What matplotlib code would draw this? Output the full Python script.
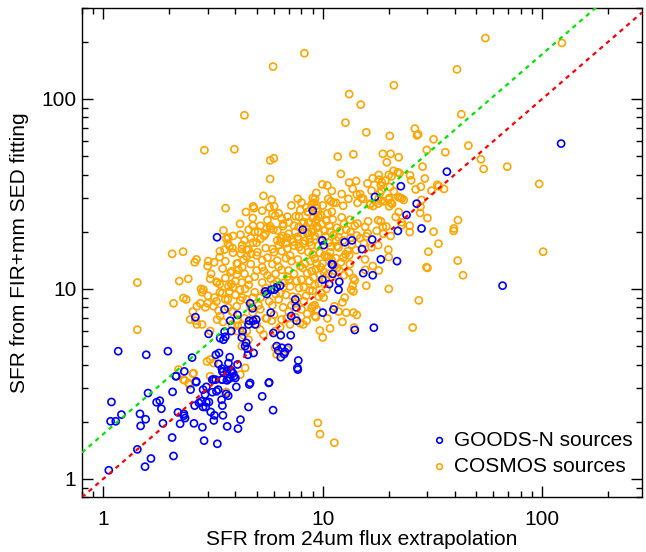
import matplotlib
matplotlib.use("Agg")
import matplotlib.pyplot as plt
from matplotlib.ticker import FixedLocator, FuncFormatter, NullFormatter, LogLocator
import numpy as np

plt.rcParams['font.family'] = ['Liberation Sans', 'DejaVu Sans']

# ---------------- data ----------------
cosmos_pts = [
    # top outliers
    (8.25,174),(5.94,148),(13.2,106),(14.9,93.3),(4.4,82),(12.7,75),(15.8,66.7),(2.89,53.7),(3.96,54.3),
    (11.7,49.7),(13.8,51.1),(5.99,48.7),
    (55.1,209),(123,197),(40.9,143),(21.1,118),(42.8,83),(26.3,69.8),(20.2,63.9),(26.9,64.3),(27.2,65.1),
    (32,61.3),(46.1,56.8),(18.8,51.4),(20.4,51.4),(29.8,53.9),(36.2,52.4),(22.2,49.3),(19.6,46.4),(52.6,48.1),
    (28.5,44),(69.3,44),(54.1,42.8),(21,41.8),(22,41.1),(22.4,40.6),(18,39.8),(20,39.8),(20.6,39.1),(25,39.6),
    (16,35.9),(16.9,38.2),(18,37.6),(18.6,36.4),(25.3,37.3),(29.2,38.1),(20.2,34.4),(28,34.5),(26.5,33.4),
    (31.3,32.9),(33.8,34.7),(35.7,33.6),(21.1,32.6),(96.9,35.7),(18.2,31.9),(15,30.1),(20.1,30.1),(22.1,30.5),
    (22.5,30.2),(22.9,29.9),(23.4,29.4),(28.2,29.4),(18.4,29),(18.9,28.9),(17.9,28.1),(20.4,28.4),(16.4,27.7),
    (17,27.3),(27.9,27.1),
    # upper-left part of the cloud
    (5.76,47.5),(5.76,37.9),(5.37,30.9),(5.86,29.5),(7.7,29.8),(9.23,29.8),(8.94,28.1),(8.46,26.8),(9.39,27.5),
    (4.82,27.2),(4.86,26.6),(5.72,26.9),(6.01,27.2),(3.61,26.6),(4.47,25.4),(6.07,24.3),(8.55,25.4),(9.07,24),
    (9.49,25.5),(7.54,24.1),(7.0,22.4),(6.58,21.4),(4.81,21.5),(5.76,21.4),(5.56,20.9),(5.96,20.5),(6.22,20.3),
    (7.78,21.2),(8.11,22.1),(8.6,22.3),(8.91,19.9),(8.49,19.7),(9.39,21.2),(3.53,20.3),(4.22,19.3),(5.08,20.0),
    (5.48,19.5),(3.63,18.4),(3.71,18.6),(4.81,17.5),(6.44,18.5),(6.86,18.6),(6.44,17.7),(7.35,17.7),(7.72,18.2),
    (8.16,17.3),(8.75,18.3),(3.57,16.1),(3.88,16.4),(3.76,16.8),(4.28,16.2),(4.24,15.3),(2.06,15.3),(2.31,15.7),
    (2.61,13.8),(2.66,14.3),(3.01,14.0),(2.99,13.2),(3.39,14.7),(4.59,16.1),(4.71,15.3),(5.04,15.6),(4.06,13.6),
    (4.36,14.3),
    # upper-right part of the cloud
    (12.1,40.3),(19.3,37.2),(18.4,35.1),(9.96,35.5),(10.5,35),(13.2,36.3),(14.2,37),(33.3,35.3),(11,32.8),
    (9.35,32),(12.2,31.6),(13.7,33.6),(14.8,31.6),(16.7,32.9),(18.5,33.0),(9.01,30.1),(9.13,28.4),(10.6,29.8),
    (10.9,28.9),(11.2,28.4),(11.5,28.4),(12.4,27.4),(13.1,29.8),(14.3,31.4),(14.4,28.4),(15.3,29.8),(16.5,28.1),
    (18,29.9),(20,29.6),(20.1,27.2),(20.7,28),(22.2,25.4),(21.5,23.9),(27.8,25.1),(30,23.6),(41.3,23),(39.6,20.8),
    (39.5,20.2),(32,20),(33.7,17.3),(30.3,15.7),(41.2,14.1),(29.7,13),(20,14.7),(19.9,16.1),(17.9,17),(16.7,16.6),
    (20.4,19),(18.8,21.2),(18.4,22.7),(17.9,23),(15.6,21.2),(13.3,23.1),(14.4,22.1),(16.1,22.7),(13.4,19.9),
    (15.8,18.9),(14.3,19.1),(24.9,21.5),(24.9,19.9),(22.9,22.4),(22.9,21.6),(19.5,21.3),(18.9,19.5),(17.6,20.2),
    (15.6,14.3),(13.2,15),(12.4,14.6),(10.6,14.8),(11.6,16.8),(11.8,18.7),(10.8,20),(9.39,23.2),(9.55,24.1),
    # lower-left part of the cloud
    (2.22,11.0),(2.44,11.3),(3.07,11.3),(3.28,10.9),(3.39,10.6),(2.79,10.0),(2.86,9.9),(2.82,9.6),(2.32,8.95),
    (2.39,8.8),(2.09,8.4),(3.21,9.0),(3.49,9.5),(3.72,10.3),(3.83,10.6),(3.76,9.7),(3.6,8.8),(3.28,8.6),
    (2.99,8.4),(2.77,8.4),(2.67,8.1),(2.92,8.0),(3.18,8.1),(2.56,7.6),(2.49,6.9),(2.63,6.8),(2.67,6.5),(2.82,6.5),
    (3.35,7.7),(3.7,8.0),(3.86,7.6),(4.06,8.1),(4.21,8.7),(4.0,9.3),(4.43,10.0),(4.28,10.8),(4.06,11.9),
    (3.86,12.4),(4.13,12.6),(3.41,7.2),(3.3,6.9),(3.51,6.7),(3.07,6.0),(3.86,6.5),(4.06,6.0),(4.28,6.4),(4.51,6.0),
    (4.36,5.7),(4.28,5.0),(4.59,5.4),(2.97,4.15),(3.07,4.25),(3.18,4.07),(2.58,3.6),(2.2,3.76),(2.32,3.33),
    (2.45,3.2),(3.07,3.47),(3.66,3.68),(4.21,3.54),(4.43,3.84),(6.17,4.51),(6.07,4.9),(6.86,4.8),(7.88,6.6),
    (9.23,7.2),(8.45,6.8),(8.16,6.5),(9.39,7.8),(6.86,7.0),(7.1,6.5),(6.4,6.3),(5.56,7.0),(5.86,6.8),(6.07,6.0),
    (5.37,5.75),(5.19,6.1),(5.0,6.5),(4.06,6.9),
    # lower-right part of the cloud
    (30,12.9),(43.6,11.8),(20.0,10.0),(18.0,12.5),(16.9,13.2),(15.6,12.6),(15.8,10.4),(13.8,11.4),(14.0,11.1),
    (13.7,10.4),(13.5,9.9),(13.8,9.7),(27.4,8.7),(12.3,8.5),(12.6,9.0),(11.8,7.6),(12.8,7.5),(13.8,7.5),(14.3,7.3),
    (12.3,6.7),(10.5,7.0),(9.3,7.1),(10.8,6.2),(9.7,6.04),(10.0,5.55),(13.9,6.26),(25.7,6.26),(11.3,8.1),(9.2,8.2),
    (8.9,7.9),(9.6,9.1),(10.1,9.0),
    # faint / isolated
    (2.35,3.3),(2.46,3.14),(2.56,3.58),(3.63,2.87),(9.5,1.97),(9.72,1.72),(11.3,1.55),(1.43,10.8),(1.43,6.1),
    (101,15.7),
    # dense core
    (5.2,9.0),(5.5,10.1),(5.8,11.3),(6.1,12.0),(6.4,9.5),(6.7,10.8),(7.0,12.5),(7.3,9.1),(7.6,11.0),(7.9,13.2),
    (8.2,10.2),(8.5,12.1),(8.8,14.0),(9.1,11.5),(9.4,13.6),(9.7,15.5),(10.1,12.3),(10.5,14.8),(10.9,16.7),(11.3,13.1),
    (4.4,12.0),(4.7,13.5),(5.0,15.0),(5.3,13.0),(5.6,14.6),(5.9,16.2),(6.2,14.1),(6.5,15.8),(6.8,17.4),(7.1,15.0),
    (7.4,16.9),(7.7,18.8),(8.0,16.0),(8.3,17.9),(8.6,19.8),(8.9,17.0),(9.2,19.0),(9.5,21.0),(9.8,18.1),(10.2,20.2),
    (4.6,10.5),(4.9,11.6),(5.1,8.2),(5.4,12.4),(5.7,8.6),(6.0,10.6),(6.3,13.1),(6.6,8.0),(6.9,11.6),(7.2,14.0),
    (7.5,8.4),(7.8,10.1),(8.1,12.9),(8.4,9.2),(8.7,11.0),(9.0,9.8),(9.3,12.7),(9.6,10.7),(9.9,9.5),(10.3,11.2),
    (5.0,17.5),(5.4,19.0),(5.8,20.8),(6.2,18.0),(6.6,22.0),(7.0,19.5),(7.4,21.5),(7.8,24.0),(8.2,22.5),(8.6,25.5),
    (9.0,23.5),(9.4,26.5),(9.8,24.5),(10.4,22.8),(11.0,25.5),(11.6,21.0),(12.2,23.8),(12.8,20.5),(13.4,18.6),(14.0,21.5),
    (10.6,17.5),(11.2,19.2),(11.8,16.5),(12.4,18.0),(13.0,15.8),(13.6,17.1),(14.2,16.0),(14.8,18.5),(15.4,17.4),(16.0,19.6),
    (11.5,14.5),(12.1,13.8),(12.7,15.2),(13.3,13.5),(10.8,15.6),(11.9,12.5),(12.5,11.8),(13.2,12.2),(10.0,13.6),(9.0,15.2),
    (6.0,7.3),(6.5,6.9),(7.0,7.6),(7.5,7.1),(8.0,7.8),(8.5,7.4),(9.0,8.1),(5.5,7.0),(4.8,7.5),(4.5,8.8),
    (4.9,9.6),(5.3,10.8),(4.2,9.9),(4.0,11.0),(3.8,12.2),(4.1,13.6),(4.5,14.8),(3.9,15.5),(4.3,17.0),(4.7,18.5),
    (6.3,25.0),(7.2,27.5),(8.0,28.5),(6.9,24.0),(5.6,23.0),(5.2,21.5),(4.6,20.5),(4.2,22.0),(3.9,19.0),(3.6,14.0),
    (3.5,12.8),(3.3,10.8),(3.1,12.0),(3.0,9.2),(3.4,9.6),(3.7,8.8),(3.9,7.6),(4.4,7.0),(4.1,6.4),(4.7,6.8),
    (5.0,12.5),(5.3,14.2),(5.6,11.8),(5.9,13.5),(6.2,10.9),(6.5,12.6),(6.8,14.5),(7.1,10.3),(7.4,12.0),(7.7,14.3),
    (8.0,11.2),(8.3,13.6),(8.6,15.6),(8.9,12.4),(9.2,14.4),(9.5,16.8),(9.8,13.0),(10.2,15.0),(10.6,12.0),(11.0,14.1),
    (6.0,15.6),(6.3,17.0),(6.6,19.0),(6.9,16.3),(7.2,18.2),(7.5,20.0),(7.8,16.6),(8.1,19.4),(8.4,21.2),(8.7,17.6),
    (9.0,20.6),(9.3,22.4),(9.6,19.6),(9.9,22.0),(10.3,18.9),(10.7,21.5),(11.1,23.2),(11.5,18.0),(12.0,20.2),(12.5,22.0),
    (5.5,16.4),(5.2,18.3),(4.9,20.0),(4.5,16.1),(4.3,13.0),(4.6,11.2),(4.8,9.0),(5.2,7.8),(5.9,8.2),(6.3,8.8),
    (6.8,9.3),(7.2,8.2),(7.7,9.0),(8.2,8.6),(8.7,9.8),(9.2,10.5),(9.7,11.9),(10.4,10.0),(11.0,11.6),(11.6,12.9),
    (7.9,26.0),(8.9,27.0),(10.0,27.5),(10.5,25.0),(6.5,23.5),(5.9,24.8),(5.3,25.8),(4.8,23.6),(4.4,18.0),(3.7,17.3),
    (3.4,15.8),(3.2,13.8),(3.6,11.4),(3.9,10.2),(4.3,9.0),(4.7,8.0),(5.4,9.6),(6.1,9.4),(6.6,10.2),(7.0,11.1),
]

goods_pts = [
    (36.8,41.4),(22.7,34.7),(26.8,28.1),(17.3,30.5),(122,58.2),
    (9.01,25.8),(8.11,20.5),(3.3,18.7),
    (24.1,24.5),(28.2,20.8),(22,20.2),(18.4,14.3),(21.8,14.0),(16.8,18.2),(15.1,16.2),(13.6,18),(12.6,17.6),
    (9.96,18),(10.1,17),(11,13.5),
    (1.97,4.7),(2.34,3.68),(2.14,3.47),(2.54,4.35),(2.65,3.26),(3.02,5.8),(2.63,7.1),(3.57,7.8),(3.79,6.8),
    (4.09,7.3),(4.67,8.4),(4.79,7.9),(4.62,6.8),(4.59,6.5),(4.82,6.8),(4.98,6.9),(4.92,6.5),(4.31,6.0),(4.28,5.55),
    (3.83,6.0),(3.57,5.95),(3.6,5.6),(3.53,5.4),(3.41,5.5),(3.26,4.5),(3.37,4.6),(3.77,4.37),(3.72,4.07),(3.35,4.03),
    (3.47,3.8),(3.51,3.66),(3.66,3.68),(3.82,3.72),(3.9,3.6),(3.79,3.4),(3.66,3.3),(3.47,3.33),(3.18,3.33),(4.09,4.0),
    (4.43,5.0),(4.48,5.2),(4.54,4.85),(4.56,4.5),(4.84,4.6),(4.67,3.2),(5.7,3.22),(5.48,9.7),(5.56,9.4),(5.82,9.9),
    (6.02,9.9),(6.17,10.2),(6.4,10.4),(7.5,8.8),(7.57,8.0),(7.18,7.2),(7.6,6.8),(5.8,7.5),(5.96,5.86),(6.44,5.7),
    (6.17,5.0),(6.28,4.74),(6.51,4.9),(6.67,4.54),(6.44,4.37),(6.73,4.66),(6.96,4.9),(7.15,5.7),(7.74,4.2),(7.67,3.84),
    (11.1,12),(9.96,11.2),(10.7,10.6),(11.9,10.9),(11.8,9.9),(15.3,12.1),(16.9,11.8),(11.2,7.8),(10.0,7.5),
    (14.0,6.08),(17.1,6.25),(11.1,13.4),
    (1.09,2.54),(1.08,2.01),(1.14,2.01),(1.21,2.18),(1.06,1.11),(1.43,1.43),(1.55,1.16),(1.65,1.28),(1.48,1.9),
    (1.47,2.2),(1.56,2.06),(1.6,2.83),(1.75,2.53),(1.81,2.58),(1.84,2.34),(1.87,1.96),(2.07,2.87),(2.15,3.47),
    (2.19,2.24),(2.24,1.95),(2.33,2.2),(2.36,2.09),(2.33,2.15),(2.06,1.65),(2.09,1.32),(2.5,2.95),(2.65,3.23),
    (2.59,1.96),(2.61,2.43),(2.73,2.51),(2.8,2.56),(2.85,2.39),(2.93,2.39),(2.95,2.53),(3.03,2.54),(2.85,2.95),
    (2.95,3.05),(2.91,2.78),(3.14,2.86),(3.28,2.89),(3.34,2.95),(3.14,3.33),(3.25,3.33),(3.49,3.33),(3.73,3.36),
    (3.94,3.47),(4.0,3.4),(3.49,3.68),(3.84,3.68),(3.09,2.25),(3.21,2.16),(3.19,2.03),(2.83,1.87),(2.88,1.59),
    (3.31,1.53),(3.46,2.61),(3.49,2.43),(3.51,2.16),(3.63,2.8),(3.71,2.74),(3.67,1.89),(4.04,3.05),(4.22,2.05),
    (4.11,1.84),(4.63,3.14),(4.59,2.39),(5.3,2.72),(5.68,3.2),(5.94,2.3),(7.7,3.76),
    (66,10.4),(1.17,4.7),(1.57,4.5),
]

cosmos_x = [p[0] for p in cosmos_pts]
cosmos_y = [p[1] for p in cosmos_pts]
goods_x = [p[0] for p in goods_pts]
goods_y = [p[1] for p in goods_pts]

x_limits = (0.8, 285)
y_limits = (0.8, 300)
green_ratio = 1.72       # y = 1.72 x
line_x = [0.8, 285]
major_ticks = [1, 10, 100]

series_labels = ["GOODS-N sources", "COSMOS sources"]
xlabel = "SFR from 24um flux extrapolation"
ylabel = "SFR from FIR+mm SED fitting"

# ---------------- figure ----------------
fig = plt.figure(figsize=(6.46, 5.52), dpi=100)
ax = fig.add_axes([0.1269, 0.0991, 0.8669, 0.8859])
ax.set_xscale('log')
ax.set_yscale('log')

ax.scatter(cosmos_x, cosmos_y, s=26, facecolors='none', edgecolors='#ffa500',
           linewidths=1.2, zorder=2, label=series_labels[1])
ax.scatter(goods_x, goods_y, s=26, facecolors='none', edgecolors='#0000ff',
           linewidths=1.2, zorder=3, label=series_labels[0])

ax.plot(line_x, line_x, color='#ff0000', lw=1.6, ls=(0, (2, 2)), zorder=4)
ax.plot(line_x, [green_ratio * v for v in line_x], color='#00e600', lw=1.6,
        ls=(0, (2, 2)), zorder=4)

ax.set_xlim(*x_limits)
ax.set_ylim(*y_limits)

fmt = FuncFormatter(lambda v, _: f"{v:g}")
for axis in (ax.xaxis, ax.yaxis):
    axis.set_major_locator(FixedLocator(major_ticks))
    axis.set_major_formatter(fmt)
    axis.set_minor_locator(LogLocator(base=10, subs=np.arange(2, 10)))
    axis.set_minor_formatter(NullFormatter())

ax.tick_params(which='both', direction='in', top=True, right=True, width=1.0,
               labelsize=15)
ax.tick_params(which='major', length=8)
ax.tick_params(which='minor', length=4.5)
ax.tick_params(axis='x', which='major', pad=9)
ax.tick_params(axis='y', which='major', pad=4)
for sp in ax.spines.values():
    sp.set_linewidth(1.0)

ax.set_xlabel(xlabel, fontsize=15, labelpad=1)
ax.set_ylabel(ylabel, fontsize=15, labelpad=9)

handles, labels = ax.get_legend_handles_labels()
order = [1, 0]
leg = ax.legend([handles[i] for i in order], [labels[i] for i in order],
                loc='lower right', frameon=False, fontsize=15, scatterpoints=1,
                markerscale=0.8, handletextpad=0.2, handlelength=1.0,
                labelspacing=0.35, bbox_to_anchor=(1.017, 0.005))

fig.savefig("out.png", dpi=100)
